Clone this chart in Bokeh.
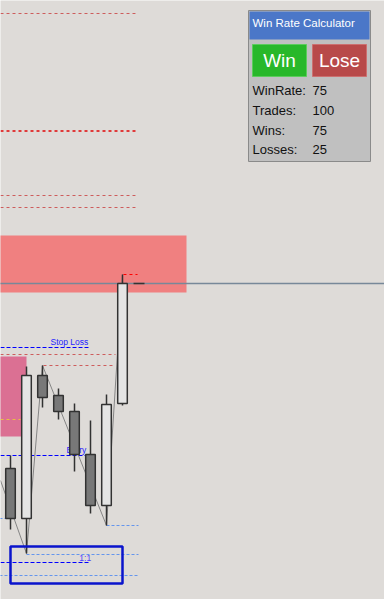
from bokeh.plotting import figure
from bokeh.models import Range1d
from bokeh.core.properties import value
from bokeh.embed import file_html
from bokeh.resources import INLINE

# ---- data (bar index, price units) ----
bar_idx = [0, 1, 2, 3, 4, 5, 6, 7]
opens  = [131, 81, 224, 204, 188, 145, 94, 196]
highs  = [144, 233, 234, 211, 196, 179, 205, 325]
lows   = [70, 46, 192, 180, 128, 86, 74, 194]
closes = [81, 224, 202, 188, 145, 94, 195, 316]

zigzag_x = [-0.625, 1, 2, 6, 7]
zigzag_y = [119, 46, 234, 74, 325]

# horizontal levels: price, x start, x end, colour
level_price = [586, 469, 404, 392, 245, 234, 180, 81, 74, 45, 24]
level_x0    = [-1, -1, -1, -1, -1, 2.06, -1, -1, 6, 1, -1]
level_x1    = [7.81, 8.0, 7.81, 7.81, 6.56, 6.56, 0.63, 0, 8, 8, 8]
level_color = ["#cd5c5c", "#e03a3a", "#cd5c5c", "#cd5c5c", "#cd5c5c", "#cd5c5c",
               "#e8c040", "#6495ed", "#6495ed", "#6495ed", "#6495ed"]

trade_labels = ["Stop Loss", "Entry"]
trade_price  = [252, 144]
trade_x1     = [4.875, 4.875]
target_price = 37
rr_label = "1:1"

current_price = 316

zone_top = [364, 243]
zone_bottom = [307, 163]
zone_right = [11, 1]
zone_color = ["#f08080", "#db7093"]

panel_title = "Win Rate Calculator"
panel_labels = ["WinRate:", "Trades:", "Wins:", "Losses:"]
panel_values = [75, 100, 75, 25]
buttons = ["Win", "Lose"]

BG = "#dedbd8"
FONT = value("Liberation Sans")

p = figure(frame_width=384, frame_height=599, x_range=Range1d(-0.625, 23.375),
           y_range=Range1d(0, 599), x_axis_type=None, y_axis_type=None,
           toolbar_location=None, output_backend="svg", min_border=0)
p.min_border_left = 0
p.min_border_right = 0
p.min_border_top = 0
p.min_border_bottom = 0
p.background_fill_color = BG
p.border_fill_color = BG
p.outline_line_color = None
p.grid.visible = False

# zones
p.quad(left=[-1, -1], right=zone_right, top=zone_top, bottom=zone_bottom,
       fill_color=zone_color, line_color=None)

# levels
for pr, a, b, c in zip(level_price, level_x0, level_x1, level_color):
    dash = "3 2" if c == "#6495ed" else "3 3"
    p.line([a, b], [pr, pr], line_color=c, line_width=1, line_dash=dash)
p.line([-1, 8.0], [468, 468], line_color="#e03a3a", line_width=1, line_dash="3 3")

# trade lines
for lab, pr, x1 in zip(trade_labels, trade_price, trade_x1):
    p.line([-1, x1], [pr, pr], line_color="#0000ff", line_width=1.2, line_dash="4 2")
p.line([-1, 4.875], [target_price, target_price], line_color="#0000ff",
       line_width=1.2, line_dash="4 2")
p.text(x=[2.5, 3.5], y=[258, 150], text=trade_labels, text_color="#2222ff",
       text_font=FONT, text_font_size="8.5px", text_baseline="middle")

# current price line
p.line([-1, 24], [current_price, current_price], line_color="#778899", line_width=1.5)
p.line([7.69, 8.375], [current_price, current_price], line_color="#333333", line_width=1.5)
p.line([7.06, 7.94], [highs[-1], highs[-1]], line_color="#ff0000", line_width=1.2, line_dash="3 3")

# zigzag
p.line(zigzag_x, zigzag_y, line_color="#858585", line_width=1)

# candles
top = [max(o, c) for o, c in zip(opens, closes)]
bot = [min(o, c) for o, c in zip(opens, closes)]
col = ["#e4e4e4" if c > o else "#787878" for o, c in zip(opens, closes)]
p.segment(x0=bar_idx, y0=highs, x1=bar_idx, y1=lows, line_color="#323232", line_width=1.5)
p.vbar(x=bar_idx, width=0.6, top=top, bottom=bot, fill_color=col,
       line_color="#323232", line_width=1.5)

# risk reward box
p.quad(left=[0], right=[7], top=[53], bottom=[16], fill_color=None,
       line_color="#0a14cc", line_width=2.5)
p.text(x=[4.3], y=[42], text=[rr_label], text_color="#5040ff", text_font=FONT,
       text_font_size="8.5px", text_baseline="middle")

# ---- panel (screen pixel layout converted to plot units) ----
def X(px):
    return (px - 10) / 16.0

def Y(py):
    return 599 - py

p.quad(left=[X(248)], right=[X(370)], top=[Y(10)], bottom=[Y(161)],
       fill_color="#c0c0c0", line_color="#8a8a8a", line_width=1)
p.quad(left=[X(249)], right=[X(369)], top=[Y(11)], bottom=[Y(39)],
       fill_color="#4b77c8", line_color=None)
p.text(x=[X(252)], y=[Y(22)], text=[panel_title], text_color="white",
       text_font=FONT, text_font_size="11.5px", text_baseline="middle")
p.quad(left=[X(252), X(312)], right=[X(306), X(366)], top=[Y(44), Y(44)],
       bottom=[Y(76), Y(76)], fill_color=["#28b82a", "#b84a4a"],
       line_color=["#5ccc5c", "#cc7070"], line_width=1)
p.text(x=[X(279), X(339)], y=[Y(60), Y(60)], text=buttons, text_color="white",
       text_font=FONT, text_font_size="19px", text_baseline="middle",
       text_align="center")
row_y = [Y(90), Y(109.5), Y(129.5), Y(149)]
p.text(x=[X(252)] * 4, y=row_y, text=panel_labels, text_color="#111111",
       text_font=FONT, text_font_size="13px", text_baseline="middle")
p.text(x=[X(312)] * 4, y=row_y, text=[str(v) for v in panel_values],
       text_color="#111111", text_font=FONT, text_font_size="13px",
       text_baseline="middle")

html = file_html(p, INLINE)
html = html.replace("<body>", "<body style=\"margin:0;background:%s\">" % BG, 1)
open("out.html", "w").write(html)
